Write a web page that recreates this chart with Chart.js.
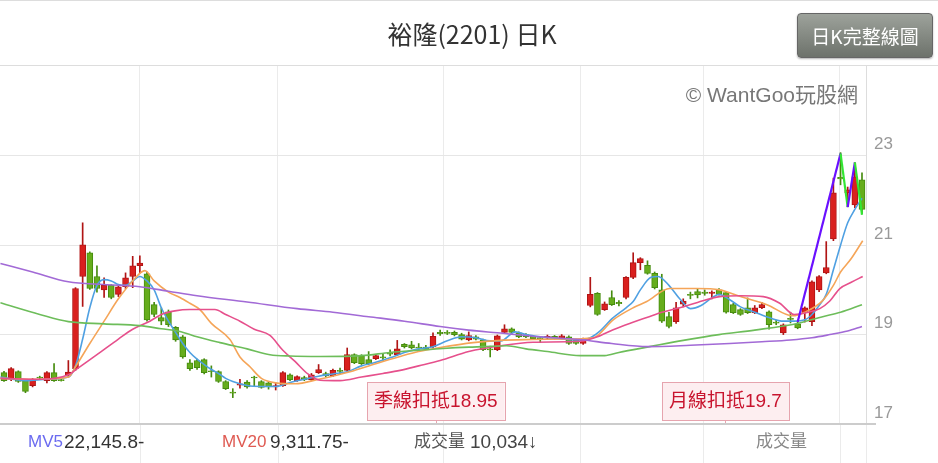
<!DOCTYPE html>
<html>
<head>
<meta charset="utf-8">
<script src="https://cdn.jsdelivr.net/npm/chart.js@4.4.1/dist/chart.umd.min.js"></script>
<style>
body{margin:0;width:938px;height:463px;overflow:hidden;background:#fff;position:relative;font-family:"Liberation Sans","Noto Sans CJK TC",sans-serif}
#c{position:absolute;left:0;top:0}
#topline{position:absolute;left:0;top:0;width:938px;height:1px;background:#ddd}
#boxline{position:absolute;left:0;top:65px;width:938px;height:1px;background:#ddd}
#botline{position:absolute;left:0;top:423px;width:876px;height:2px;background:#ccc}
#title{position:absolute;left:0;top:14px;width:944px;text-align:center;font-size:25px;line-height:38px;color:#333;font-family:"Noto Sans CJK TC","Liberation Sans",sans-serif}
#btn{position:absolute;left:797px;top:13px;width:134px;height:43px;border-radius:4px;border:1px solid #666;
  background:linear-gradient(#9da29b,#6d726b);color:#fff;font-size:19px;line-height:43px;text-align:center;
  font-family:"Noto Sans CJK TC",sans-serif;box-shadow:0 1px 2px rgba(0,0,0,.3)}
#wm{position:absolute;right:80px;top:78px;font-size:21px;color:#777;font-family:"Liberation Sans","Noto Sans CJK TC",sans-serif}
.vol{position:absolute;top:429px;font-size:19px;line-height:26px;color:#333;font-family:"Liberation Sans","Noto Sans CJK TC",sans-serif}
.lab{font-size:17px}
</style>
</head>
<body>
<canvas id="c" width="938" height="463"></canvas>
<div id="topline"></div>
<div id="boxline"></div>
<div id="botline"></div>
<div id="title">裕隆(2201) 日K</div>
<div id="btn">日K完整線圖</div>
<div id="wm">© WantGoo玩股網</div>
<div class="vol lab" style="left:28px;color:#6b6bf0">MV5</div>
<div class="vol" style="left:64px">22,145.8-</div>
<div class="vol lab" style="left:222px;color:#df5a52">MV20</div>
<div class="vol" style="left:270px">9,311.75-</div>
<div class="vol lab" style="left:414px;color:#555">成交量</div>
<div class="vol" style="left:470px;color:#444">10,034↓</div>
<div class="vol lab" style="left:756px;color:#888">成交量</div>
<script>
// daily candles, oldest first
var opens = [18.15,18.00,18.17,17.97,17.86,18.05,17.97,18.15,17.99,18.09,
  18.24,20.30,20.83,20.30,20.00,20.10,19.90,20.07,20.30,20.54,
  20.36,19.67,19.38,19.51,19.16,18.95,18.37,18.42,18.44,18.19,
  18.17,17.95,17.71,17.87,17.94,18.05,17.95,17.92,17.83,17.86,
  18.10,17.97,18.04,17.99,18.15,18.13,18.08,18.20,18.20,18.55,
  18.53,18.44,18.46,18.50,18.60,18.55,18.78,18.77,18.72,18.72,
  18.73,19.05,19.05,19.05,19.00,18.88,18.95,18.88,18.68,18.66,
  19.05,19.13,19.04,19.00,18.96,18.93,18.92,18.96,18.92,18.95,
  18.88,18.80,19.65,19.92,19.56,19.83,19.72,19.83,20.28,20.61,
  20.55,20.37,20.00,19.40,19.29,19.68,19.90,19.96,19.95,19.92,
  20.00,19.94,19.67,19.56,19.60,19.49,19.60,19.51,19.28,19.04,
  19.36,19.24,19.49,19.29,20.00,20.38,21.14,22.52,22.17,21.90,
  22.46];
var highs = [18.18,18.26,18.19,17.99,18.02,18.07,18.17,18.35,18.01,18.42,
  20.05,21.50,20.85,20.54,20.27,20.12,20.12,20.38,20.75,20.76,
  20.40,19.72,19.60,19.55,19.18,18.98,18.44,18.45,18.46,18.30,
  18.19,17.97,17.79,18.00,17.97,18.07,17.97,17.95,17.92,18.17,
  18.12,18.08,18.07,18.13,18.33,18.16,18.23,18.25,18.70,18.57,
  18.55,18.62,18.55,18.58,18.66,18.87,18.80,18.85,18.80,18.76,
  19.04,19.10,19.09,19.08,19.03,19.06,18.98,18.90,18.74,18.99,
  19.22,19.15,19.06,19.02,18.98,18.96,18.99,18.98,19.00,18.97,
  18.90,18.92,20.28,19.94,19.73,19.98,19.76,20.30,20.83,20.72,
  20.65,20.40,20.35,19.50,19.72,19.80,19.95,20.02,20.00,19.98,
  20.03,19.96,19.70,19.58,19.82,19.65,19.72,19.53,19.32,19.24,
  19.50,19.30,19.62,20.20,20.32,21.08,22.50,23.07,22.30,22.84,
  22.62];
var lows = [17.95,17.97,17.93,17.70,17.83,18.01,17.92,17.95,17.96,18.05,
  18.20,19.63,20.01,19.95,19.83,19.80,19.85,20.03,20.05,20.38,
  19.30,19.40,19.22,19.18,18.85,18.47,18.20,18.22,18.12,18.05,
  17.93,17.77,17.59,17.80,17.80,17.85,17.80,17.78,17.76,17.84,
  17.97,17.95,17.97,17.97,18.13,18.05,18.06,18.12,18.18,18.35,
  18.33,18.33,18.44,18.40,18.52,18.53,18.70,18.68,18.64,18.66,
  18.71,18.98,19.00,18.97,18.88,18.86,18.88,18.64,18.50,18.64,
  19.03,19.03,18.93,18.93,18.89,18.82,18.90,18.90,18.90,18.78,
  18.78,18.78,19.62,19.43,19.54,19.65,19.64,19.80,20.25,20.45,
  20.35,20.02,19.27,19.15,19.25,19.62,19.80,19.82,19.88,19.80,
  19.88,19.48,19.47,19.43,19.47,19.47,19.58,19.12,19.22,19.00,
  19.26,19.13,19.28,19.20,19.96,20.36,21.10,22.35,21.86,21.84,
  21.70];
var closes = [17.97,18.24,17.95,17.73,18.00,18.03,18.15,17.97,17.97,18.16,
  20.03,21.01,20.03,20.03,20.10,19.83,20.07,20.27,20.54,20.60,
  19.33,19.45,19.30,19.22,18.88,18.50,18.24,18.26,18.15,18.17,
  17.95,17.79,17.69,17.90,17.83,18.03,17.82,17.83,17.86,18.15,
  17.99,18.06,17.99,18.10,18.22,18.08,18.20,18.18,18.55,18.37,
  18.35,18.35,18.53,18.48,18.56,18.68,18.73,18.70,18.70,18.68,
  18.96,19.02,19.03,19.00,18.90,18.98,18.90,18.66,18.66,18.97,
  19.13,19.05,18.95,18.95,18.91,18.91,18.96,18.92,18.97,18.80,
  18.80,18.90,19.90,19.45,19.69,19.67,19.69,20.28,20.61,20.70,
  20.37,20.05,19.30,19.18,19.60,19.75,19.88,19.89,19.92,19.95,
  19.90,19.50,19.49,19.45,19.49,19.60,19.67,19.22,19.26,19.22,
  19.34,19.15,19.60,20.18,20.30,20.50,22.17,22.48,22.24,22.53,
  21.80];

// moving averages: [candle index, price]
var ma5 = [[-0.5,18.05],[3,17.97],[6,18.0],[9,18.05],[10,18.3],[11,18.9],[12,19.6],[13,20.1],[14,20.23],
  [15,20.2],[16,20.12],[17,20.1],[18,20.2],[19,20.3],[20,20.2],[21,20.0],[22,19.6],[23,19.3],[24,19.05],
  [25,18.8],[26,18.6],[27,18.45],[28,18.33],[29,18.22],[30,18.13],[31,18.02],[32,17.95],[34,17.86],
  [36,17.84],[38,17.84],[40,17.93],[42,18.0],[44,18.07],[46,18.12],[48,18.17],[50,18.3],[52,18.38],
  [54,18.48],[56,18.6],[58,18.68],[60,18.73],[62,18.86],[64,18.95],[66,18.93],[68,18.86],[69.5,18.86],
  [71.5,19.06],[73,19.0],[75,18.95],[78,18.9],[80,18.88],[82,18.93],[83.5,19.1],[85,19.35],[87,19.6],
  [88,19.74],[89,20.0],[90.5,20.28],[91.5,20.3],[93,20.1],[94.5,19.8],[96,19.58],[97.5,19.65],[99,19.82],
  [100,19.9],[101.5,19.78],[103,19.62],[105,19.5],[107,19.38],[109,19.3],[110.5,19.3],[112,19.33],
  [113,19.45],[114,19.65],[115,19.9],[116,20.45],[117,21.0],[118,21.5],[119,21.8],[120,22.05]];
var ma10 = [[-0.5,18.02],[5,18.0],[9,18.05],[10,18.28],[12,18.8],[14,19.3],[16,19.8],[18,20.2],[19.7,20.43],
  [21,20.2],[23,19.95],[24.6,19.83],[26,19.7],[27.4,19.56],[29,19.25],[31.6,18.89],[33,18.5],[34.4,18.28],
  [36,18.02],[38,17.92],[40.7,17.9],[44,18.0],[48.4,18.17],[52,18.35],[55.4,18.51],[58,18.62],[61,18.71],
  [65.6,18.82],[69.4,18.87],[74,18.89],[78,18.9],[82.4,18.93],[85.2,19.33],[88,19.6],[89.9,19.74],
  [93.1,20.03],[96.9,20.03],[100.1,20.0],[103,19.85],[106.7,19.67],[110.3,19.42],[112,19.5],[114.5,19.76],
  [116,20.1],[117,20.4],[118.5,20.7],[120.1,21.1]];
var ma20 = [[-0.5,18.02],[5,18.0],[9,18.1],[10.1,18.22],[13,18.55],[16,18.9],[18,19.12],[20.4,19.3],[22,19.45],
  [23.9,19.53],[26,19.56],[29.5,19.56],[31,19.45],[33,19.3],[35,19.12],[37.2,18.98],[39,18.65],[40.7,18.4],
  [42.5,18.12],[44.2,17.98],[47,17.97],[50,18.05],[53,18.13],[55.4,18.2],[58,18.3],[61,18.42],[65,18.62],
  [69.4,18.75],[74,18.83],[80.6,18.85],[83,18.95],[85.2,19.11],[87.5,19.25],[89.9,19.38],[92,19.5],
  [94.5,19.6],[97,19.72],[100.1,19.85],[103,19.87],[106.2,19.85],[108.5,19.7],[110.5,19.45],[112.5,19.5],
  [114.1,19.58],[115.5,19.75],[116.9,20.03],[118.5,20.17],[120.1,20.3]];
var ma60 = [[-0.5,19.71],[5,19.45],[9,19.29],[14,19.24],[19,19.2],[22,19.13],[24.6,19.07],[27,18.95],
  [30.2,18.82],[34,18.68],[37.2,18.55],[40,18.52],[44.2,18.51],[50,18.53],[54,18.6],[58,18.65],[61.4,18.69],
  [65,18.72],[67,18.73],[70.3,18.75],[73,18.68],[76,18.62],[80.6,18.53],[84,18.53],[86,18.6],[90.3,18.73],
  [95,18.87],[100,19.0],[105,19.1],[111,19.25],[114.5,19.4],[117,19.5],[120,19.67]];
var ma120 = [[-0.5,20.59],[4,20.4],[9,20.18],[14,20.12],[19,20.07],[23,19.97],[27,19.87],[34,19.73],[41,19.58],
  [46,19.5],[51,19.4],[56,19.3],[61,19.18],[65,19.1],[69,19.04],[75,18.95],[80.5,18.89],[85,18.8],[90,18.73],
  [96,18.76],[101.5,18.8],[106,18.84],[110,18.88],[113,18.93],[115.5,19.0],[118,19.08],[120,19.18]];
// wave line drawn on the chart
var wave = [[111,19.28],[117,23.05],[118,21.85],[119,22.85],[120,21.68]];

var yTicks = [17, 19, 21, 23];
var monthLines = [19, 38.3, 61.4, 80.6, 97.8, 116.9];
var noteText = ['季線扣抵18.95', '月線扣抵19.7'];
var noteAt = [60.4, 100.9];

var bodies = [], wicks = [], fillCol = [], edgeCol = [];
for (var i = 0; i < opens.length; i++) {
  var up = closes[i] >= opens[i];
  var lo = Math.min(opens[i], closes[i]);
  var hi = Math.max(opens[i], closes[i]);
  if (hi - lo < 0.025) { var m = (hi + lo) / 2; lo = m - 0.012; hi = m + 0.012; }
  bodies.push({x: i, y: [lo, hi]});
  wicks.push({x: i, y: [lows[i], highs[i]]});
  fillCol.push(up ? '#d9201e' : '#66ad1c');
  edgeCol.push(up ? '#b01414' : '#468c0e');
}

function pts(arr) {
  return arr.map(function(p) { return {x: p[0], y: p[1]}; });
}
function maLine(arr, color) {
  return {type: 'line', data: pts(arr), borderColor: color, borderWidth: 1.6, pointRadius: 0,
    cubicInterpolationMode: 'monotone', fill: false, order: 2};
}

var extras = {
  id: 'extras',
  beforeDatasetsDraw: function(chart) {
    // month lines continue down into the volume strip
    var ctx = chart.ctx, xs = chart.scales.x, a = chart.chartArea;
    ctx.save();
    ctx.strokeStyle = '#ebebeb';
    ctx.lineWidth = 1;
    monthLines.forEach(function(v) {
      var px = Math.round(xs.getPixelForValue(v)) + 0.5;
      ctx.beginPath(); ctx.moveTo(px, a.bottom); ctx.lineTo(px, 463); ctx.stroke();
    });
    ctx.beginPath(); ctx.moveTo(a.right + 0.5, a.bottom); ctx.lineTo(a.right + 0.5, 463); ctx.stroke();
    ctx.restore();
  },
  afterDatasetsDraw: function(chart) {
    var ctx = chart.ctx, xs = chart.scales.x, a = chart.chartArea;
    ctx.save();
    ctx.font = '19px "Liberation Sans","Noto Sans CJK TC",sans-serif';
    ctx.textBaseline = 'middle';
    ctx.textAlign = 'center';
    for (var k = 0; k < noteText.length; k++) {
      var cx = xs.getPixelForValue(noteAt[k]);
      var w = ctx.measureText(noteText[k]).width + 14;
      var top = 382, h = 38;
      ctx.fillStyle = '#fdeef0';
      ctx.strokeStyle = '#e6a4ae';
      ctx.lineWidth = 1;
      ctx.fillRect(cx - w / 2, top, w, h);
      ctx.strokeRect(Math.round(cx - w / 2) + 0.5, top + 0.5, Math.round(w), h);
      ctx.beginPath(); ctx.moveTo(Math.round(cx) + 0.5, top + h); ctx.lineTo(Math.round(cx) + 0.5, a.bottom); ctx.stroke();
      ctx.fillStyle = '#c8142e';
      ctx.fillText(noteText[k], cx, top + h / 2 + 1);
    }
    ctx.restore();
  }
};

new Chart(document.getElementById('c').getContext('2d'), {
  data: {
    datasets: [
      {type: 'bar', data: wicks, backgroundColor: edgeCol, borderWidth: 0, barThickness: 1, grouped: false, order: 11},
      {type: 'bar', data: bodies, backgroundColor: fillCol, borderColor: edgeCol, borderWidth: 1,
        borderSkipped: false, barThickness: 6, grouped: false, order: 10},
      maLine(ma120, '#a26ad6'),
      maLine(ma60, '#6dbd5a'),
      maLine(ma20, '#e6508c'),
      maLine(ma10, '#f5a558'),
      maLine(ma5, '#4fa0e2'),
      {type: 'line', data: pts(wave), borderWidth: 2.2, pointRadius: 0, fill: false, order: 0,
        borderColor: '#6a10ff',
        segment: {borderColor: function(c) { return c.p1.parsed.y > c.p0.parsed.y ? '#6a10ff' : '#33e633'; }}}
    ]
  },
  options: {
    responsive: false,
    animation: false,
    layout: {padding: {top: 65, bottom: 39, left: 0, right: 0}},
    plugins: {legend: {display: false}, tooltip: {enabled: false}},
    scales: {
      x: {
        type: 'linear', min: -0.56, max: 120.56, offset: false,
        afterBuildTicks: function(s) { s.ticks = monthLines.map(function(v) { return {value: v}; }); },
        afterFit: function(s) { s.height = 0; },
        ticks: {display: false},
        grid: {color: '#ebebeb', drawTicks: false, offset: false},
        border: {color: '#cccccc', width: 2}
      },
      y: {
        position: 'right', min: 17, max: 25.03,
        afterBuildTicks: function(s) { s.ticks = yTicks.map(function(v) { return {value: v}; }); },
        afterFit: function(s) { s.width = 72; },
        ticks: {color: '#999', padding: 8, labelOffset: -11,
          font: {size: 17, family: '"Liberation Sans", sans-serif'}},
        grid: {color: '#e6e6e6', drawTicks: false},
        border: {color: '#dddddd'}
      }
    }
  },
  plugins: [extras]
});
</script>
</body>
</html>
